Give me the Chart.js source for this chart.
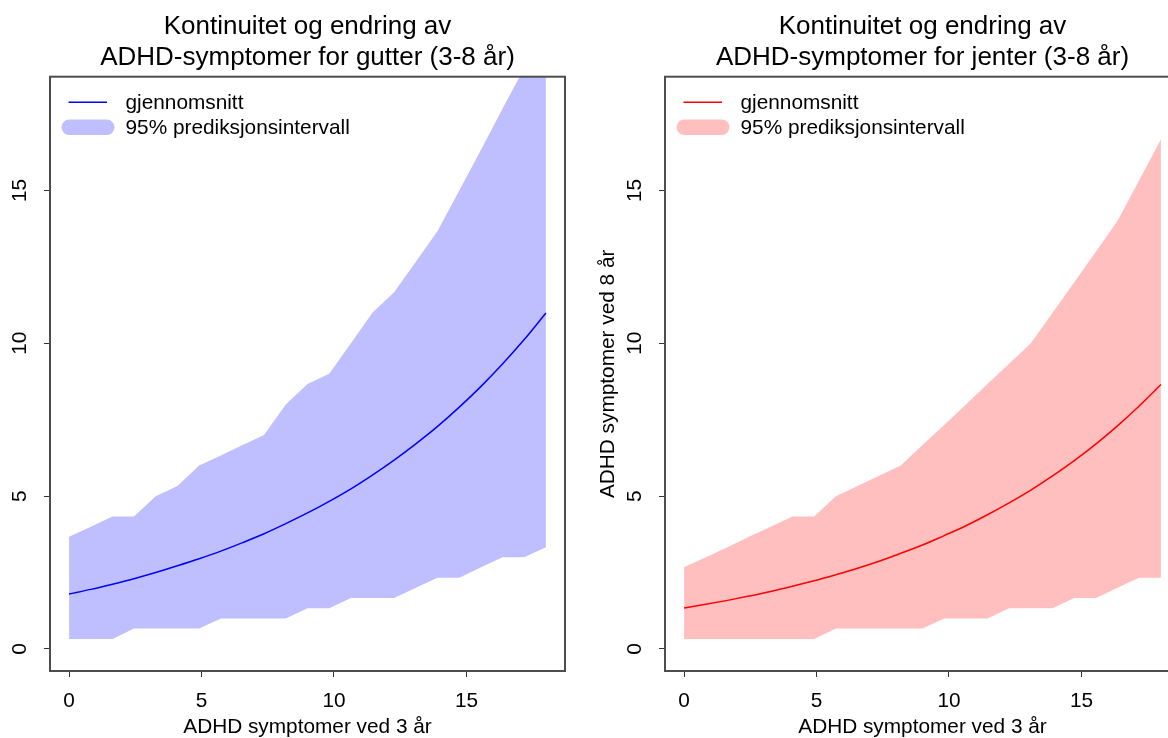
<!DOCTYPE html>
<html>
<head>
<meta charset="utf-8">
<title>ADHD-symptomer 3-8 år</title>
<script src="https://cdn.jsdelivr.net/npm/chart.js@4.4.1/dist/chart.umd.min.js"></script>
<style>
  html, body { margin: 0; padding: 0; background: #fff; overflow: hidden; }
  #wrap { position: relative; width: 1168px; height: 738px; overflow: hidden; background: #fff; }
  canvas { position: absolute; top: 0; }
  #boys { left: -65px; }
  #girls { left: 550px; }
</style>
</head>
<body>
<div id="wrap">
  <canvas id="boys" width="680" height="738"></canvas>
  <canvas id="girls" width="680" height="738"></canvas>
</div>
<script>
// ADHD symptoms at age 3 (x) and predicted symptoms at age 8 (y)
const age3Values = [0, 0.82, 1.64, 2.45, 3.27, 4.09, 4.91, 5.73, 6.55, 7.36, 8.18, 9,
                    9.82, 10.64, 11.45, 12.27, 13.09, 13.91, 14.73, 15.55, 16.36, 17.18, 18];

// Boys
const boysMean  = [1.80, 1.95, 2.12, 2.30, 2.50, 2.72, 2.95, 3.20, 3.48, 3.77, 4.10, 4.45,
                   4.83, 5.24, 5.69, 6.18, 6.71, 7.28, 7.91, 8.59, 9.32, 10.12, 10.99];
const boysUpper = [3.67, 4.00, 4.33, 4.33, 5.00, 5.33, 6.00, 6.33, 6.67, 7.00, 8.00, 8.67,
                   9.00, 10.00, 11.00, 11.67, 12.67, 13.67, 15.00, 16.33, 17.67, 19.00, 20.33];
const boysLower = [0.33, 0.33, 0.33, 0.67, 0.67, 0.67, 0.67, 1.00, 1.00, 1.00, 1.00, 1.33,
                   1.33, 1.67, 1.67, 1.67, 2.00, 2.33, 2.33, 2.67, 3.00, 3.00, 3.33];

// Girls
const girlsMean  = [1.34, 1.46, 1.59, 1.73, 1.88, 2.05, 2.23, 2.43, 2.64, 2.87, 3.13, 3.40,
                    3.71, 4.03, 4.39, 4.78, 5.20, 5.66, 6.16, 6.71, 7.30, 7.95, 8.65];
const girlsUpper = [2.67, 3.00, 3.33, 3.67, 4.00, 4.33, 4.33, 5.00, 5.33, 5.67, 6.00, 6.67,
                    7.33, 8.00, 8.67, 9.33, 10.00, 11.00, 12.00, 13.00, 14.00, 15.33, 16.67];
const girlsLower = [0.33, 0.33, 0.33, 0.33, 0.33, 0.33, 0.33, 0.67, 0.67, 0.67, 0.67, 0.67,
                    1.00, 1.00, 1.00, 1.33, 1.33, 1.33, 1.67, 1.67, 2.00, 2.33, 2.33];

const xTicks = [0, 5, 10, 15];
const yTicks = [0, 5, 10, 15];
const legendLabels = ['gjennomsnitt', '95% prediksjonsintervall'];
const boysTitle  = ['Kontinuitet og endring av', 'ADHD-symptomer for gutter (3-8 år)'];
const girlsTitle = ['Kontinuitet og endring av', 'ADHD-symptomer for jenter (3-8 år)'];
const xAxisTitle = 'ADHD symptomer ved 3 år';
const yAxisTitle = 'ADHD symptomer ved 8 år';

const FONT = '"Liberation Sans", Arial, Helvetica, sans-serif';
const BASE = 20.8;
Chart.defaults.font.family = FONT;
Chart.defaults.color = '#000';

// Frame around the plot region plus the legend in its top-left corner
const framePlugin = {
  id: 'frameLegend',
  afterDraw(chart, args, opts) {
    const { ctx, chartArea: a } = chart;
    ctx.save();
    ctx.strokeStyle = '#4d4d4d';
    ctx.lineWidth = 2;
    ctx.strokeRect(a.left, a.top, a.right - a.left, a.bottom - a.top);

    const lx = a.left, ty = a.top;
    ctx.lineCap = 'butt';
    ctx.strokeStyle = opts.lineColor;
    ctx.lineWidth = 1.5;
    ctx.beginPath();
    ctx.moveTo(lx + 18.5, ty + 25.5);
    ctx.lineTo(lx + 57, ty + 25.5);
    ctx.stroke();

    ctx.strokeStyle = opts.bandColor;
    ctx.lineWidth = 15.5;
    ctx.lineCap = 'round';
    ctx.beginPath();
    ctx.moveTo(lx + 11.5 + 7.75, ty + 50.5);
    ctx.lineTo(lx + 64.5 - 7.75, ty + 50.5);
    ctx.stroke();

    ctx.fillStyle = '#000';
    ctx.font = BASE + 'px ' + FONT;
    ctx.textAlign = 'left';
    ctx.textBaseline = 'middle';
    ctx.fillText(opts.labels[0], lx + 75.5, ty + 26.5);
    ctx.fillText(opts.labels[1], lx + 75.5, ty + 51.5);
    ctx.restore();
  }
};

function points(ys) {
  return age3Values.map((x, i) => ({ x: x, y: ys[i] }));
}

function makeChart(id, title, mean, upper, lower, lineColor, bandColor, showYTitle) {
  return new Chart(document.getElementById(id), {
    type: 'line',
    data: {
      datasets: [
        {
          label: legendLabels[0],
          data: points(mean),
          borderColor: lineColor,
          borderWidth: 1.5,
          pointRadius: 0,
          fill: false,
          cubicInterpolationMode: 'monotone'
        },
        {
          label: 'upper',
          data: points(upper),
          borderColor: 'rgba(0,0,0,0)',
          borderWidth: 0,
          backgroundColor: bandColor,
          pointRadius: 0,
          tension: 0,
          fill: '+1'
        },
        {
          label: 'lower',
          data: points(lower),
          borderColor: 'rgba(0,0,0,0)',
          borderWidth: 0,
          pointRadius: 0,
          tension: 0,
          fill: false
        }
      ]
    },
    options: {
      responsive: false,
      animation: false,
      devicePixelRatio: 1,
      layout: { padding: { left: 0, right: 50, top: 0, bottom: 0 } },
      plugins: {
        legend: { display: false },
        tooltip: { enabled: false },
        title: {
          display: true,
          text: title,
          fullSize: false,
          color: '#000',
          font: { size: 26, weight: 'normal', lineHeight: 31 / 26 },
          padding: { top: 11.5, bottom: 3.2 }
        },
        frameLegend: { lineColor: lineColor, bandColor: bandColor, labels: legendLabels }
      },
      scales: {
        x: {
          type: 'linear',
          min: -0.72,
          max: 18.72,
          afterBuildTicks: s => { s.ticks = xTicks.map(v => ({ value: v })); },
          afterFit: s => { s.height = 67; },
          ticks: {
            autoSkip: false,
            maxRotation: 0,
            padding: 11.5,
            color: '#000',
            font: { size: BASE },
            callback: v => String(v)
          },
          grid: { drawOnChartArea: false, drawTicks: true, tickLength: 6, color: '#333', lineWidth: 1 },
          border: { display: false },
          title: {
            display: true,
            text: xAxisTitle,
            color: '#000',
            font: { size: BASE, lineHeight: 1 },
            padding: { top: 0, bottom: 0.6 }
          }
        },
        y: {
          type: 'linear',
          min: -0.72,
          max: 18.72,
          afterBuildTicks: s => { s.ticks = yTicks.map(v => ({ value: v })); },
          afterFit: s => { s.width = 115; },
          ticks: {
            autoSkip: false,
            minRotation: 90,
            maxRotation: 90,
            crossAlign: 'center',
            padding: 12.4,
            color: '#000',
            font: { size: BASE },
            callback: v => String(v)
          },
          grid: { drawOnChartArea: false, drawTicks: true, tickLength: 6, color: '#333', lineWidth: 1 },
          border: { display: false },
          title: {
            display: showYTitle,
            text: yAxisTitle,
            color: '#000',
            font: { size: BASE, lineHeight: 1.2 },
            padding: { top: 45.5, bottom: 0 }
          }
        }
      }
    },
    plugins: [framePlugin]
  });
}

makeChart('boys', boysTitle, boysMean, boysUpper, boysLower, '#0000ff', 'rgb(191,191,255)', false);
makeChart('girls', girlsTitle, girlsMean, girlsUpper, girlsLower, '#ff0000', 'rgb(255,191,191)', true);
</script>
</body>
</html>
